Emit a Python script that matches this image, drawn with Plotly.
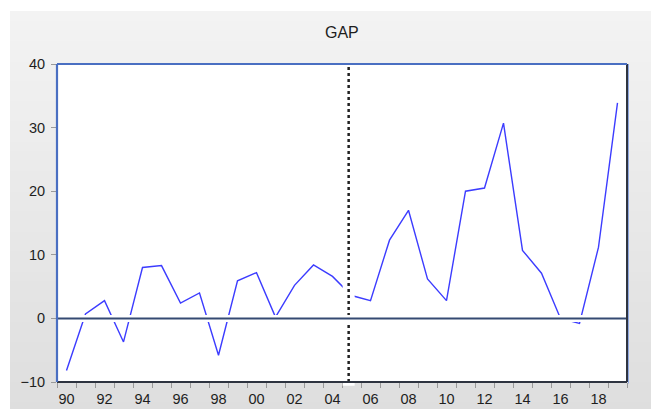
import plotly.graph_objects as go

# ---- data ----
years = list(range(1990, 2020))
gap = [-8.2, 0.7, 2.8, -3.7, 8.0, 8.3, 2.4, 4.0, -5.8, 5.9,
       7.2, 0.2, 5.2, 8.4, 6.6, 3.6, 2.8, 12.3, 17.0, 6.2,
       2.8, 20.0, 20.5, 30.7, 10.7, 7.1, 0.0, -0.8, 11.2, 33.9]
xtick_vals = list(range(1990, 2019, 2))
xtick_text = ["%02d" % (y % 100) for y in xtick_vals]
ytick_vals = [-10, 0, 10, 20, 30, 40]
title_text = "GAP"

# page body has an 8px margin; figure occupies 651x401 starting at (8, 8)
OFF = 8
W, H = 659 - OFF, 409 - OFF
ML, MT = 57 - OFF, 64 - OFF
pw, ph = 570, 318
MR, MB = W - ML - pw, H - MT - ph

def px_x(p):  # page pixel -> paper x
    return (p - OFF - ML) / pw

def px_y(p):  # page pixel -> paper y
    return 1 - (p - OFF - MT) / ph

fig = go.Figure()
fig.add_trace(go.Scatter(x=years, y=gap, mode="lines",
                         line=dict(color="#3c3cff", width=1.4),
                         hoverinfo="skip", showlegend=False))

shapes = []
# gradient gray panel
n = 40
top_px, bot_px = 11, 412
c0, c1 = (243, 243, 243), (222, 222, 222)
for i in range(n):
    t = i / (n - 1)
    c = tuple(int(round(c0[k] + (c1[k] - c0[k]) * t)) for k in range(3))
    y0p = top_px + (bot_px - top_px) * i / n
    y1p = top_px + (bot_px - top_px) * (i + 1) / n + 1
    shapes.append(dict(type="rect", xref="paper", yref="paper", layer="below",
                       x0=px_x(10), x1=px_x(662), y0=px_y(y1p), y1=px_y(y0p),
                       fillcolor="rgb(%d,%d,%d)" % c, line=dict(width=0)))
# white plot area
shapes.append(dict(type="rect", xref="paper", yref="paper", layer="below",
                   x0=0, x1=1, y0=0, y1=1, fillcolor="white", line=dict(width=0)))

BREAK_X = 2004.85
# dashed break line with white halo
shapes.append(dict(type="line", xref="x", yref="paper", x0=BREAK_X, x1=BREAK_X,
                   y0=-0.012, y1=1, line=dict(color="white", width=12)))
shapes.append(dict(type="line", xref="x", yref="paper", x0=BREAK_X, x1=BREAK_X,
                   y0=0, y1=1, line=dict(color="#222222", width=2.5, dash="3px,3px")))
# zero line with white halo
shapes.append(dict(type="line", xref="paper", yref="y", x0=0, x1=1, y0=0, y1=0,
                   line=dict(color="white", width=7)))
shapes.append(dict(type="line", xref="paper", yref="y", x0=0, x1=1, y0=0, y1=0,
                   line=dict(color="#354a72", width=2)))
# frame
shapes.append(dict(type="line", xref="paper", yref="paper", x0=1, x1=1, y0=0, y1=1,
                   line=dict(color="#2e3440", width=2)))
shapes.append(dict(type="line", xref="paper", yref="paper", x0=1 + 1.5 / pw, x1=1 + 1.5 / pw,
                   y0=-1.5 / ph, y1=1, line=dict(color="#8fa8e0", width=1)))
shapes.append(dict(type="line", xref="paper", yref="paper", x0=0, x1=1, y0=0, y1=0,
                   line=dict(color="#2e3440", width=2)))
shapes.append(dict(type="line", xref="paper", yref="paper", x0=0, x1=0, y0=0, y1=1,
                   line=dict(color="#4a6fc2", width=2.2)))
shapes.append(dict(type="line", xref="paper", yref="paper", x0=0, x1=1, y0=1, y1=1,
                   line=dict(color="#4a6fc2", width=2.2)))

font_family = "Liberation Sans, Arial, sans-serif"

fig.update_layout(
    width=W, height=H,
    margin=dict(l=ML, r=MR, t=MT, b=MB, pad=0, autoexpand=False),
    paper_bgcolor="white", plot_bgcolor="white",
    shapes=shapes,
    font=dict(family=font_family, size=14.5, color="#1e1e1e"),
    annotations=[dict(text=title_text, xref="paper", yref="paper",
                      x=0.5, y=px_y(32), xanchor="center", yanchor="middle",
                      showarrow=False, font=dict(size=16, color="#1e1e1e"))],
    xaxis=dict(range=[1989.5, 2019.5], tickmode="array", tickvals=xtick_vals,
               ticktext=xtick_text, ticks="outside", ticklen=4,
               tickcolor="rgba(0,0,0,0)", showgrid=False, zeroline=False,
               showline=False, fixedrange=True, automargin=False,
               minor=dict(ticks="outside", ticklen=5, tickcolor="#9a9a9a",
                          tickmode="linear", tick0=1989.5, dtick=1, showgrid=False)),
    yaxis=dict(range=[-10, 40], tickmode="array", tickvals=ytick_vals,
               ticks="outside", ticklen=5, tickcolor="#9a9a9a", automargin=False,
               ticklabelstandoff=3,
               showgrid=False, zeroline=False, showline=False, fixedrange=True),
)

fig.write_html("out.html")
